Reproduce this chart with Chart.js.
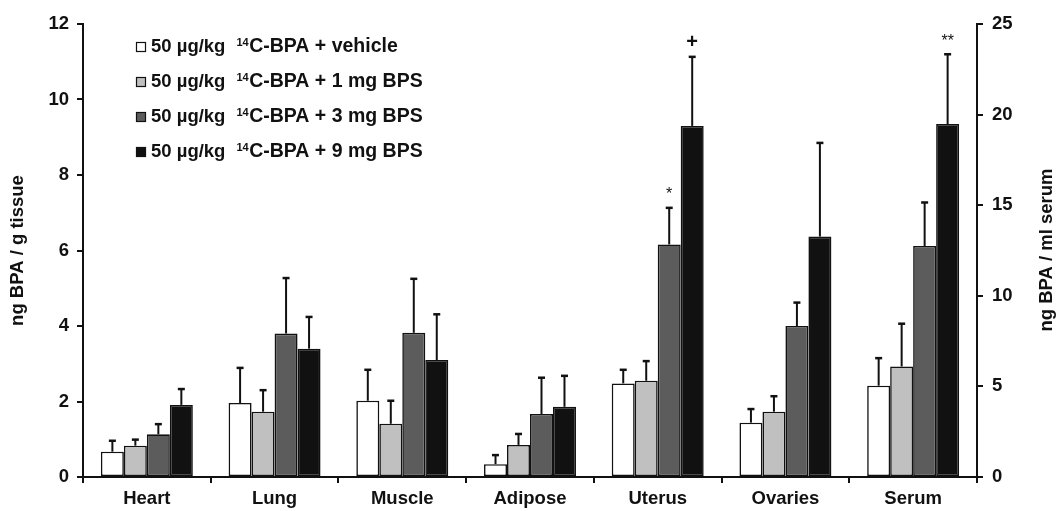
<!DOCTYPE html>
<html>
<head>
<meta charset="utf-8">
<script src="https://cdn.jsdelivr.net/npm/chart.js@4.4.1/dist/chart.umd.min.js"></script>
<style>
  html, body { margin: 0; padding: 0; background: #fff; }
  #wrap { width: 1059px; height: 511px; }
</style>
</head>
<body>
<div id="wrap"><canvas id="chart" width="1059" height="511"></canvas></div>
<script>
// categories (first six are tissues on the left axis, Serum on the right axis)
const categories = ['Heart', 'Lung', 'Muscle', 'Adipose', 'Uterus', 'Ovaries', 'Serum'];
const treatments = ['vehicle', '1 mg BPS', '3 mg BPS', '9 mg BPS'];
const colors = ['#ffffff', '#c0c0c0', '#5c5c5c', '#111111'];

// ng BPA / g tissue (Heart..Ovaries)
const tissueVehicle = [0.67, 1.96, 2.02, 0.34, 2.48, 1.44];
const tissueBps1    = [0.83, 1.73, 1.41, 0.85, 2.55, 1.73];
const tissueBps3    = [1.13, 3.80, 3.82, 1.67, 6.16, 4.00];
const tissueBps9    = [1.91, 3.40, 3.10, 1.86, 9.30, 6.37];
// top of error bars (mean + SD)
const tissueVehicleUpper = [0.96, 2.89, 2.84, 0.58, 2.84, 1.80];
const tissueBps1Upper    = [0.99, 2.30, 2.02, 1.14, 3.07, 2.14];
const tissueBps3Upper    = [1.40, 5.27, 5.25, 2.63, 7.13, 4.62];
const tissueBps9Upper    = [2.33, 4.24, 4.31, 2.68, 11.13, 8.85];

// ng BPA / ml serum
const serumValues = [5.04, 6.10, 12.75, 19.48];
const serumUpper  = [6.56, 8.46, 15.15, 23.33];

// significance marks: [category, treatment index, text]
const marks = [['Uterus', 2, '*'], ['Uterus', 3, '+'], ['Serum', 3, '**']];

const leftTicks = { max: 12, step: 2 };
const rightTicks = { max: 25, step: 5 };

const FONT = "'Liberation Sans', Arial, sans-serif";
const nulls = n => Array(n).fill(null);

const tissueSets = [tissueVehicle, tissueBps1, tissueBps3, tissueBps9];
const tissueUppers = [tissueVehicleUpper, tissueBps1Upper, tissueBps3Upper, tissueBps9Upper];

const datasets = [];
treatments.forEach((t, i) => {
    datasets.push({
        label: '50 µg/kg ¹⁴C-BPA + ' + t,
        data: [...tissueSets[i], null],
        upper: [...tissueUppers[i], null],
        backgroundColor: colors[i],
        yAxisID: 'y',
        legend: true
    });
});
treatments.forEach((t, i) => {
    datasets.push({
        label: 'serum ' + t,
        data: [...nulls(6), serumValues[i]],
        upper: [...nulls(6), serumUpper[i]],
        backgroundColor: colors[i],
        yAxisID: 'y1',
        legend: false
    });
});
datasets.forEach(d => {
    d.borderColor = '#111';
    d.borderWidth = 1.6;
    d.borderSkipped = false;
    d.categoryPercentage = 0.72;
    d.barPercentage = 1.0;
});

const errorBars = {
    id: 'errorBars',
    afterDatasetsDraw(chart) {
        const ctx = chart.ctx;
        ctx.save();
        ctx.strokeStyle = '#111';
        chart.data.datasets.forEach((ds, di) => {
            const meta = chart.getDatasetMeta(di);
            const scale = chart.scales[ds.yAxisID];
            meta.data.forEach((bar, i) => {
                const up = ds.upper[i];
                if (up == null) return;
                const yTop = scale.getPixelForValue(up);
                ctx.lineWidth = 2;
                ctx.beginPath();
                ctx.moveTo(bar.x, bar.y);
                ctx.lineTo(bar.x, yTop);
                ctx.stroke();
                ctx.lineWidth = 2.5;
                ctx.beginPath();
                ctx.moveTo(bar.x - 3.5, yTop);
                ctx.lineTo(bar.x + 3.5, yTop);
                ctx.stroke();
            });
        });
        // significance marks
        ctx.fillStyle = '#111';
        ctx.textAlign = 'center';
        ctx.textBaseline = 'middle';
        marks.forEach(([cat, ti, txt]) => {
            const ci = categories.indexOf(cat);
            const di = cat === 'Serum' ? ti + 4 : ti;
            const ds = chart.data.datasets[di];
            const bar = chart.getDatasetMeta(di).data[ci];
            const yTop = chart.scales[ds.yAxisID].getPixelForValue(ds.upper[ci]);
            ctx.font = (txt === '+' ? 'bold 20px ' : '16px ') + FONT;
            ctx.fillText(txt, bar.x, yTop - (txt === '+' ? 14 : 13));
        });
        ctx.restore();
    }
};

const legendBox = {
    id: 'legendBox',
    afterDraw(chart) {
        const ctx = chart.ctx;
        ctx.save();
        ctx.textBaseline = 'middle';
        ctx.textAlign = 'left';
        chart.data.datasets.filter(d => d.legend).forEach((ds, i) => {
            const y = 47 + i * 35;
            ctx.fillStyle = ds.backgroundColor;
            ctx.fillRect(136.5, y - 4.5, 9, 9);
            ctx.strokeStyle = '#111';
            ctx.lineWidth = 1.2;
            ctx.strokeRect(136.5, y - 4.5, 9, 9);
            const [pre, post] = ds.label.split('¹⁴');
            let x = 151;
            ctx.fillStyle = '#111';
            ctx.font = 'bold 18.5px ' + FONT;
            ctx.fillText(pre.trim(), x, y);
            x += ctx.measureText(pre.trim()).width + 11;
            ctx.font = 'bold 11px ' + FONT;
            ctx.fillText('14', x, y - 4);
            x += ctx.measureText('14').width + 0.5;
            ctx.font = 'bold 19.5px ' + FONT;
            ctx.fillText(post, x, y);
        });
        // right axis title, reading bottom to top
        ctx.translate(1047, 250);
        ctx.rotate(-Math.PI / 2);
        ctx.textAlign = 'center';
        ctx.textBaseline = 'middle';
        ctx.fillStyle = '#111';
        ctx.font = 'bold 18.5px ' + FONT;
        ctx.fillText('ng BPA / ml serum', 0, 0);
        ctx.restore();
    }
};

const tickFont = { family: FONT, size: 18.5, weight: 'bold' };
const axisGrid = { drawOnChartArea: false, drawTicks: true, tickLength: 6, color: '#111', lineWidth: 2 };
const axisBorder = { display: true, color: '#111', width: 2 };

new Chart(document.getElementById('chart'), {
    type: 'bar',
    data: { labels: categories, datasets },
    options: {
        responsive: false,
        animation: false,
        skipNull: true,
        layout: { padding: { top: 24, left: 0, right: 0, bottom: 0 } },
        plugins: { legend: { display: false }, tooltip: { enabled: false } },
        scales: {
            x: {
                grid: { ...axisGrid, offset: true },
                border: axisBorder,
                ticks: { font: tickFont, color: '#111', padding: 5, maxRotation: 0 },
                afterFit: s => { s.height = 34; }
            },
            y: {
                position: 'left',
                min: 0,
                max: leftTicks.max,
                grid: axisGrid,
                border: axisBorder,
                ticks: { stepSize: leftTicks.step, font: tickFont, color: '#111', padding: 8 },
                title: {
                    display: true,
                    text: 'ng BPA / g tissue',
                    font: tickFont,
                    color: '#111',
                    padding: { top: 7, bottom: 0 }
                },
                afterFit: s => { s.width = 83; }
            },
            y1: {
                position: 'right',
                min: 0,
                max: rightTicks.max,
                grid: axisGrid,
                border: axisBorder,
                ticks: { stepSize: rightTicks.step, font: tickFont, color: '#111', padding: 9 },
                afterFit: s => { s.width = 82; }
            }
        }
    },
    plugins: [errorBars, legendBox]
});
</script>
</body>
</html>
